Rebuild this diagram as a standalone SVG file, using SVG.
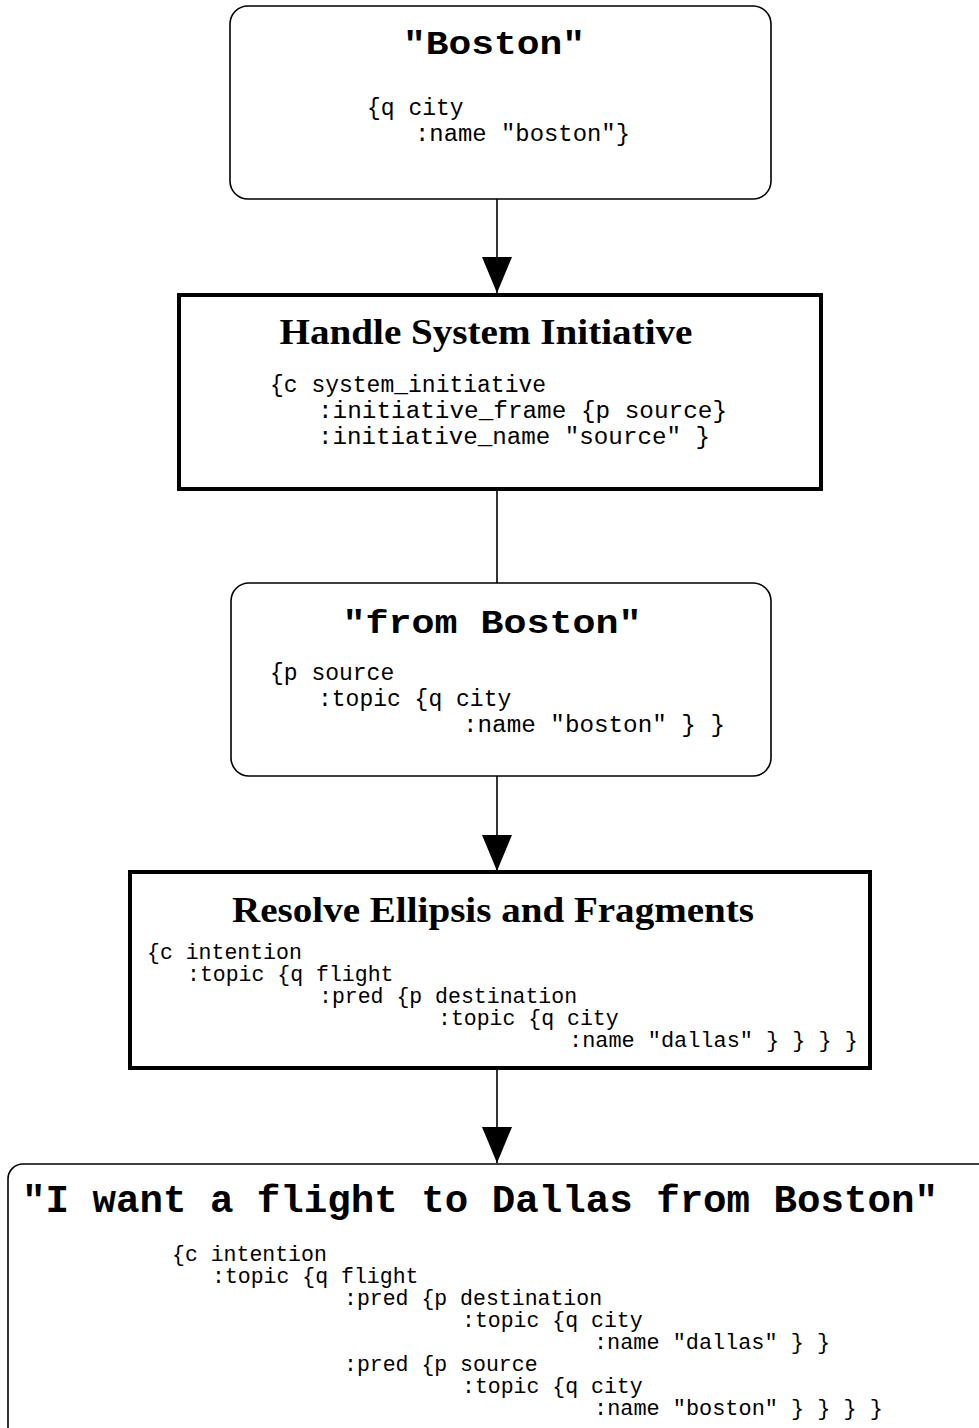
<svg xmlns="http://www.w3.org/2000/svg" width="979" height="1428" viewBox="0 0 979 1428">
<style>
.rbox{fill:#fff;stroke:#000;stroke-width:1.6}
.sbox{fill:#fff;stroke:#000;stroke-width:4}
.ttl{font-family:"Liberation Mono",monospace;font-weight:bold;text-anchor:middle}
.hdr{font-family:"Liberation Serif",serif;font-weight:bold;font-size:36px;text-anchor:middle}
.code{font-family:"Liberation Mono",monospace;font-size:23px;white-space:pre}
.code2{font-family:"Liberation Mono",monospace;font-size:21.5px;white-space:pre}
.conn{stroke:#000;stroke-width:1.6;fill:none}
</style>
<defs>
<marker id="ah" markerUnits="userSpaceOnUse" markerWidth="38" markerHeight="32" refX="36" refY="16" orient="auto" viewBox="0 0 38 32">
<path d="M0,1 L36,16 L0,31 Z" fill="#000"/>
</marker>
</defs>
<rect width="979" height="1428" fill="#fff"/>
<g id="connectors">
<line class="conn" x1="497" y1="199" x2="497" y2="293" marker-end="url(#ah)"/>
<line class="conn" x1="497" y1="489" x2="497" y2="583"/>
<line class="conn" x1="497" y1="776" x2="497" y2="871" marker-end="url(#ah)"/>
<line class="conn" x1="497" y1="1068" x2="497" y2="1163" marker-end="url(#ah)"/>
</g>
<g id="node-boston">
<rect class="rbox" x="230" y="6" width="541" height="193" rx="18"/>
<text class="ttl" x="494" y="54" font-size="34" textLength="182" lengthAdjust="spacingAndGlyphs">"Boston"</text>
<text class="code" x="367" y="115">{q city</text>
<text class="code" x="415" y="141" textLength="215" lengthAdjust="spacingAndGlyphs">:name "boston"}</text>
</g>
<g id="node-handle">
<rect class="sbox" x="179" y="295" width="642" height="194"/>
<text class="hdr" x="486" y="344" textLength="413" lengthAdjust="spacingAndGlyphs">Handle System Initiative</text>
<text class="code" x="270" y="392">{c system_initiative</text>
<text class="code" x="318" y="418" textLength="409" lengthAdjust="spacingAndGlyphs">:initiative_frame {p source}</text>
<text class="code" x="318" y="444" textLength="392" lengthAdjust="spacingAndGlyphs">:initiative_name "source" }</text>
</g>
<g id="node-from-boston">
<rect class="rbox" x="231" y="583" width="540" height="193" rx="18"/>
<text class="ttl" x="492" y="633" font-size="34" textLength="299" lengthAdjust="spacingAndGlyphs">"from Boston"</text>
<text class="code" x="270" y="680">{p source</text>
<text class="code" x="318" y="706">:topic {q city</text>
<text class="code" x="463" y="732" textLength="262" lengthAdjust="spacingAndGlyphs">:name "boston" } }</text>
</g>
<g id="node-resolve">
<rect class="sbox" x="130" y="872" width="740" height="196"/>
<text class="hdr" x="493" y="922" textLength="522" lengthAdjust="spacingAndGlyphs">Resolve Ellipsis and Fragments</text>
<text class="code2" x="147" y="959">{c intention</text>
<text class="code2" x="187" y="981">:topic {q flight</text>
<text class="code2" x="319" y="1003">:pred {p destination</text>
<text class="code2" x="438" y="1025">:topic {q city</text>
<text class="code2" x="569" y="1047" textLength="289" lengthAdjust="spacingAndGlyphs">:name "dallas" } } } }</text>
</g>
<g id="node-full">
<rect class="rbox" x="8" y="1164" width="1000" height="1259" rx="15"/>
<text class="ttl" x="480" y="1212" font-size="38" textLength="916" lengthAdjust="spacingAndGlyphs">"I want a flight to Dallas from Boston"</text>
<text class="code2" x="172" y="1261">{c intention</text>
<text class="code2" x="212" y="1283">:topic {q flight</text>
<text class="code2" x="344" y="1305">:pred {p destination</text>
<text class="code2" x="462" y="1327">:topic {q city</text>
<text class="code2" x="594" y="1349" textLength="236" lengthAdjust="spacingAndGlyphs">:name "dallas" } }</text>
<text class="code2" x="344" y="1371">:pred {p source</text>
<text class="code2" x="462" y="1393">:topic {q city</text>
<text class="code2" x="594" y="1415" textLength="289" lengthAdjust="spacingAndGlyphs">:name "boston" } } } }</text>
</g>
</svg>
